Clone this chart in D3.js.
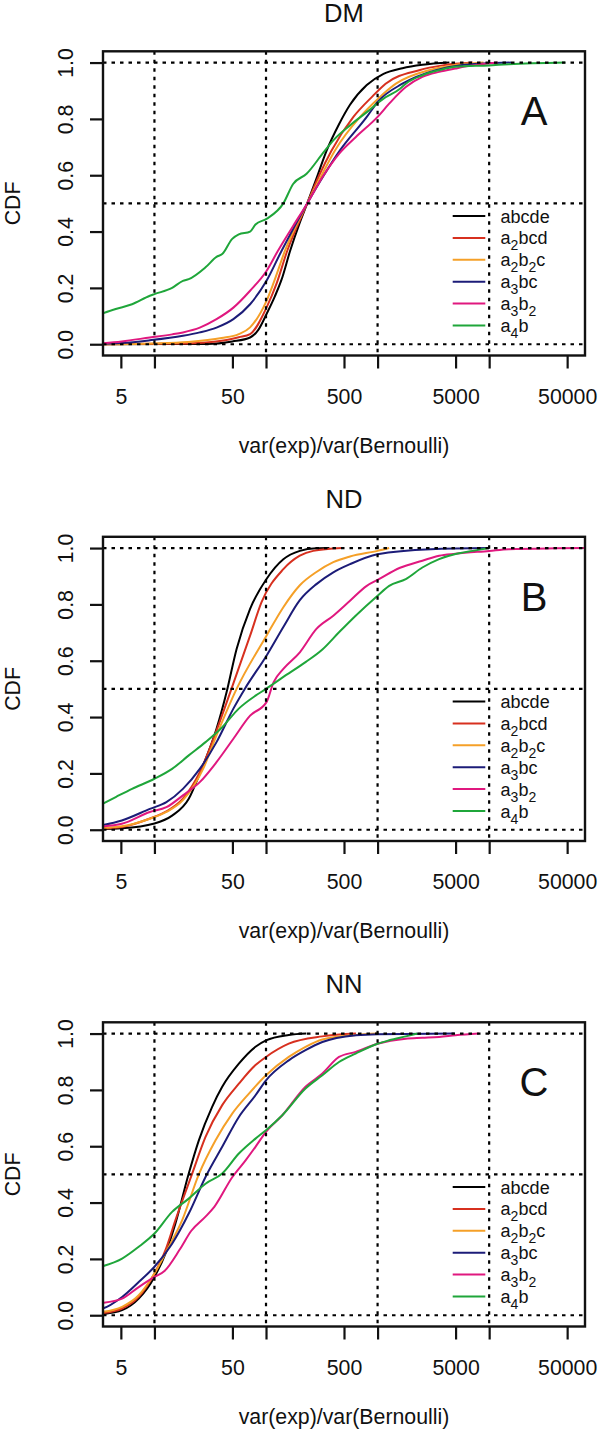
<!DOCTYPE html>
<html>
<head>
<meta charset="utf-8">
<script src="https://cdn.jsdelivr.net/npm/d3@7"></script>
<style>
  body { margin: 0; background: #fff; }
  svg text { font-family: "Liberation Sans", Arial, sans-serif; fill: #111; }
</style>
</head>
<body>
<div id="chart"></div>
<script>
// ---- data: [var ratio, CDF] ----
const SERIES = ['abcde', 'a2bcd', 'a2b2c', 'a3bc', 'a3b2', 'a4b'];
const COLORS = ['#000000', '#d7301f', '#f5a028', '#1c1c78', '#e0187f', '#1fa63a'];
// legend labels split in [text, subscript] pieces
const LEGEND_PARTS = [
  [['abcde', '']],
  [['a', '2'], ['bcd', '']],
  [['a', '2'], ['b', '2'], ['c', '']],
  [['a', '3'], ['bc', '']],
  [['a', '3'], ['b', '2']],
  [['a', '4'], ['b', '']],
];
const PANEL_TITLES = ['DM', 'ND', 'NN'];
const PANEL_LETTERS = ['A', 'B', 'C'];
const X_TICKS = [5, 10, 50, 100, 500, 1000, 5000, 10000, 50000];
const X_LABELS = [5, 50, 500, 5000, 50000];
const Y_TICKS = [0, 0.2, 0.4, 0.6, 0.8, 1];
const GRID_X = [10, 100, 1000, 10000];
const GRID_Y = [0, 0.5, 1];

const dmAbcde = [[3,0],[30,0.001],[50,0.01],[72,0.024],[85,0.05],[101,0.107],[120,0.17],[138,0.23],[164,0.33],[200,0.43],[234,0.5],[290,0.6],[350,0.688],[450,0.78],[566,0.85],[800,0.92],[1130,0.96],[1670,0.98],[2520,0.992],[4400,1]];
const dmA2bcd = [[3,0],[20,0.003],[40,0.012],[57,0.025],[72,0.036],[101,0.13],[124,0.214],[155,0.332],[234,0.5],[300,0.6],[387,0.688],[607,0.807],[900,0.88],[1180,0.925],[2360,0.973],[3800,0.99],[7100,1]];
const dmA2b2c = [[3,0],[10,0.003],[20,0.008],[40,0.022],[57,0.036],[72,0.06],[101,0.154],[116,0.214],[148,0.332],[234,0.5],[315,0.6],[415,0.688],[697,0.807],[1000,0.87],[1460,0.925],[2900,0.973],[4700,0.99],[8900,1]];
const dmA3bc = [[3,0.001],[5.1,0.004],[9.1,0.014],[18,0.03],[25.5,0.042],[36,0.059],[51,0.089],[72,0.142],[101,0.225],[138,0.332],[234,0.5],[330,0.6],[460,0.688],[800,0.807],[1000,0.86],[1670,0.925],[3330,0.973],[5400,0.99],[15700,1]];
const dmA3b2 = [[3,0.002],[5.1,0.01],[9.1,0.024],[14.4,0.035],[18,0.042],[25.5,0.059],[36,0.089],[51,0.13],[72,0.19],[101,0.26],[128,0.332],[175,0.42],[234,0.5],[320,0.593],[451,0.676],[636,0.735],[1000,0.807],[1270,0.854],[1790,0.913],[2520,0.949],[3560,0.967],[5000,0.979],[7100,0.99],[11900,1]];
const dmA4b = [[3.3,0.107],[4.5,0.125],[6.3,0.142],[9.1,0.172],[10,0.178],[14.4,0.2],[18,0.225],[20.3,0.231],[28.7,0.273],[36,0.31],[40.5,0.32],[49.8,0.374],[57,0.39],[72,0.4],[80.5,0.425],[101,0.445],[143,0.5],[175,0.569],[231,0.605],[326,0.68],[401,0.724],[566,0.777],[800,0.824],[1130,0.872],[1590,0.907],[1790,0.925],[2520,0.955],[3560,0.973],[5000,0.985],[10000,0.99],[15000,0.994],[48000,1]];

const ndAbcde = [[3,0.002],[5.1,0.005],[10,0.022],[14.4,0.05],[20.3,0.11],[25.5,0.2],[36,0.358],[44.3,0.488],[54.5,0.642],[72,0.784],[101,0.89],[143,0.96],[201,0.99],[283,0.999],[370,1]];
const ndA2bcd = [[3,0.004],[5.1,0.01],[9.1,0.04],[12.8,0.065],[18,0.11],[25.5,0.204],[36,0.352],[49,0.5],[72,0.689],[91,0.807],[143,0.925],[201,0.973],[265,0.99],[480,1]];
const ndA2b2c = [[3,0.005],[5.1,0.012],[9.1,0.039],[12.8,0.063],[18,0.105],[27.3,0.216],[36,0.335],[54.5,0.5],[101,0.689],[143,0.79],[201,0.868],[283,0.915],[401,0.95],[566,0.97],[1000,0.99],[1270,1]];
const ndA3bc = [[3,0.012],[5.1,0.033],[9.1,0.074],[12.8,0.098],[18,0.145],[25.5,0.216],[36,0.311],[51,0.43],[64.5,0.5],[101,0.618],[143,0.72],[201,0.815],[283,0.872],[401,0.914],[566,0.943],[1000,0.978],[3000,0.996],[10000,1]];
const ndA3b2 = [[3,0.01],[5.1,0.021],[9.1,0.063],[12.8,0.08],[18,0.122],[25.5,0.169],[36,0.24],[51,0.323],[72,0.405],[101,0.453],[117,0.524],[143,0.571],[201,0.63],[283,0.713],[401,0.76],[566,0.813],[800,0.866],[1000,0.887],[1590,0.93],[2520,0.955],[3560,0.973],[5000,0.98],[10000,0.99],[15000,0.996],[40000,0.999],[80000,1]];
const ndA4b = [[3.3,0.089],[4.5,0.116],[6.3,0.145],[10,0.181],[14.4,0.216],[20.3,0.264],[28.7,0.311],[40.5,0.364],[57,0.43],[80.5,0.476],[100,0.5],[140,0.54],[226,0.595],[320,0.64],[451,0.701],[636,0.76],[1000,0.831],[1270,0.866],[1790,0.89],[2520,0.931],[3560,0.961],[5000,0.979],[7100,0.99],[10000,1]];

const nnAbcde = [[3,0.002],[3.43,0.004],[5.13,0.018],[7.23,0.059],[10,0.136],[12.55,0.219],[15.4,0.325],[20.3,0.503],[25,0.621],[32.9,0.74],[40.5,0.811],[57.1,0.893],[80.5,0.953],[100,0.976],[160,0.995],[230,1]];
const nnA2bcd = [[3,0.006],[3.43,0.008],[5.13,0.024],[7.23,0.065],[10,0.148],[12.55,0.231],[15.4,0.337],[21.8,0.503],[28.7,0.633],[40.5,0.746],[57.1,0.822],[80.5,0.888],[100,0.917],[160,0.964],[320,0.99],[640,1]];
const nnA2b2c = [[3,0.01],[3.43,0.012],[5.13,0.03],[7.23,0.071],[10,0.148],[13.45,0.243],[17.7,0.337],[25,0.5],[35.3,0.621],[49.8,0.716],[70.3,0.787],[100,0.852],[160,0.917],[226,0.953],[320,0.979],[640,0.995],[1000,1]];
const nnA3bc = [[3,0.02],[3.43,0.024],[5.13,0.065],[7.23,0.118],[10,0.172],[14.4,0.254],[20.3,0.361],[28.7,0.491],[40.5,0.598],[57.1,0.704],[80.5,0.781],[100,0.834],[160,0.905],[226,0.941],[320,0.97],[640,0.994],[1000,0.998],[4900,1]];
const nnA3b2 = [[3,0.042],[3.43,0.044],[5.13,0.059],[7.23,0.1],[10,0.136],[12.3,0.157],[16.9,0.234],[21.4,0.3],[28.7,0.35],[34.4,0.385],[49.8,0.49],[65.6,0.55],[80.5,0.598],[100,0.651],[140,0.71],[226,0.811],[320,0.858],[451,0.917],[636,0.935],[1000,0.964],[1790,0.982],[2520,0.985],[3560,0.988],[5000,0.994],[8100,1]];
const nnA4b = [[3.3,0.172],[5.13,0.201],[7.23,0.243],[10,0.29],[14.4,0.367],[20.3,0.414],[28.7,0.467],[40.5,0.503],[57.1,0.574],[80.5,0.627],[100,0.657],[140,0.71],[226,0.805],[320,0.852],[451,0.899],[636,0.929],[1000,0.964],[1270,0.976],[1790,0.99],[2280,1]];

const PANEL_DATA = [
  [dmAbcde, dmA2bcd, dmA2b2c, dmA3bc, dmA3b2, dmA4b],
  [ndAbcde, ndA2bcd, ndA2b2c, ndA3bc, ndA3b2, ndA4b],
  [nnAbcde, nnA2bcd, nnA2b2c, nnA3bc, nnA3b2, nnA4b],
];

// ---- layout ----
const W = 600, H = 1435;
const BOX = {l: 103, r: 585, h: 304.2};
const PANEL_STEP = 485.5, FIRST_TOP = 51.3;
const FONT = 21.3;
const SUB_DROP = 6;

const svg = d3.select('#chart').append('svg')
  .attr('width', W).attr('height', H);

// R style log axis: xlim 5..50000 with 4% padding
const lo = Math.log10(5), hi = Math.log10(50000), pad = (hi - lo) * 0.04;
const x = d3.scaleLog()
  .domain([10 ** (lo - pad), 10 ** (hi + pad)])
  .range([BOX.l, BOX.r]);

PANEL_TITLES.forEach((title, p) => {
  const top = FIRST_TOP + PANEL_STEP * p;
  const bottom = top + BOX.h;
  const y = d3.scaleLinear().domain([-0.04, 1.04]).range([bottom, top]);
  const g = svg.append('g');

  const clipId = 'clip' + p;
  svg.append('clipPath').attr('id', clipId)
    .append('rect')
    .attr('x', BOX.l).attr('y', top)
    .attr('width', BOX.r - BOX.l).attr('height', BOX.h);

  // curves
  const line = d3.line()
    .x(d => x(d[0]))
    .y(d => y(d[1]))
    .curve(d3.curveMonotoneX);
  g.append('g').attr('clip-path', `url(#${clipId})`)
    .selectAll('path')
    .data(PANEL_DATA[p])
    .join('path')
    .attr('d', line)
    .attr('fill', 'none')
    .attr('stroke', (d, i) => COLORS[i])
    .attr('stroke-width', 2);

  // dotted reference lines
  const grid = g.append('g')
    .attr('stroke', '#000')
    .attr('stroke-width', 2.2)
    .attr('stroke-dasharray', '3.5,5');
  grid.selectAll('.gx').data(GRID_X).join('line')
    .attr('x1', d => x(d)).attr('x2', d => x(d))
    .attr('y1', top).attr('y2', bottom);
  grid.selectAll('.gy').data(GRID_Y).join('line')
    .attr('x1', BOX.l).attr('x2', BOX.r)
    .attr('y1', d => y(d)).attr('y2', d => y(d));

  // box
  g.append('rect')
    .attr('x', BOX.l).attr('y', top)
    .attr('width', BOX.r - BOX.l).attr('height', BOX.h)
    .attr('fill', 'none').attr('stroke', '#111').attr('stroke-width', 2.4);

  // x axis
  const xg = g.append('g')
    .attr('transform', `translate(0,${bottom})`)
    .call(d3.axisBottom(x)
      .tickValues(X_TICKS)
      .tickFormat(d => X_LABELS.includes(d) ? d : '')
      .tickSize(13)
      .tickPadding(20));
  xg.select('.domain').remove();
  xg.selectAll('.tick line').attr('stroke', '#111').attr('stroke-width', 2.2);
  xg.selectAll('.tick text')
    .filter(d => !X_LABELS.includes(d)).remove();
  xg.selectAll('.tick text')
    .attr('font-size', FONT).attr('font-family', null).attr('fill', '#111');

  // y axis
  const yg = g.append('g')
    .attr('transform', `translate(${BOX.l},0)`)
    .call(d3.axisLeft(y)
      .tickValues(Y_TICKS)
      .tickFormat(d3.format('.1f'))
      .tickSize(13));
  yg.select('.domain').remove();
  yg.selectAll('.tick line').attr('stroke', '#111').attr('stroke-width', 2.2);
  yg.selectAll('.tick text')
    .attr('font-size', FONT).attr('font-family', null).attr('fill', '#111')
    .attr('transform', 'rotate(-90)')
    .attr('text-anchor', 'middle')
    .attr('x', 0).attr('y', -30.5).attr('dy', 0);

  // titles and labels
  const midX = (BOX.l + BOX.r) / 2;
  g.append('text')
    .attr('x', midX).attr('y', top - 29)
    .attr('text-anchor', 'middle')
    .attr('font-size', 25.6)
    .text(title);
  g.append('text')
    .attr('x', midX).attr('y', bottom + 97)
    .attr('text-anchor', 'middle')
    .attr('font-size', FONT)
    .text('var(exp)/var(Bernoulli)');
  g.append('text')
    .attr('transform', `translate(19.5,${top + BOX.h / 2}) rotate(-90)`)
    .attr('text-anchor', 'middle')
    .attr('font-size', FONT)
    .text('CDF');
  g.append('text')
    .attr('x', 534).attr('y', top + 73.7)
    .attr('text-anchor', 'middle')
    .attr('font-size', 40)
    .text(PANEL_LETTERS[p]);

  // legend
  const leg = g.append('g');
  SERIES.forEach((name, i) => {
    const ly = top + 164.7 + i * 21.9;
    leg.append('line')
      .attr('x1', 452.7).attr('x2', 485.3)
      .attr('y1', ly).attr('y2', ly)
      .attr('stroke', COLORS[i]).attr('stroke-width', 2);
    const t = leg.append('text')
      .attr('x', 500.6).attr('y', ly + 6.5)
      .attr('font-size', 18);
    let lowered = false;
    LEGEND_PARTS[i].forEach(([base, sub]) => {
      t.append('tspan').attr('dy', lowered ? -SUB_DROP : 0).text(base);
      lowered = false;
      if (sub) {
        t.append('tspan').attr('dy', SUB_DROP).attr('font-size', 14).text(sub);
        lowered = true;
      }
    });
  });
});
</script>
</body>
</html>
